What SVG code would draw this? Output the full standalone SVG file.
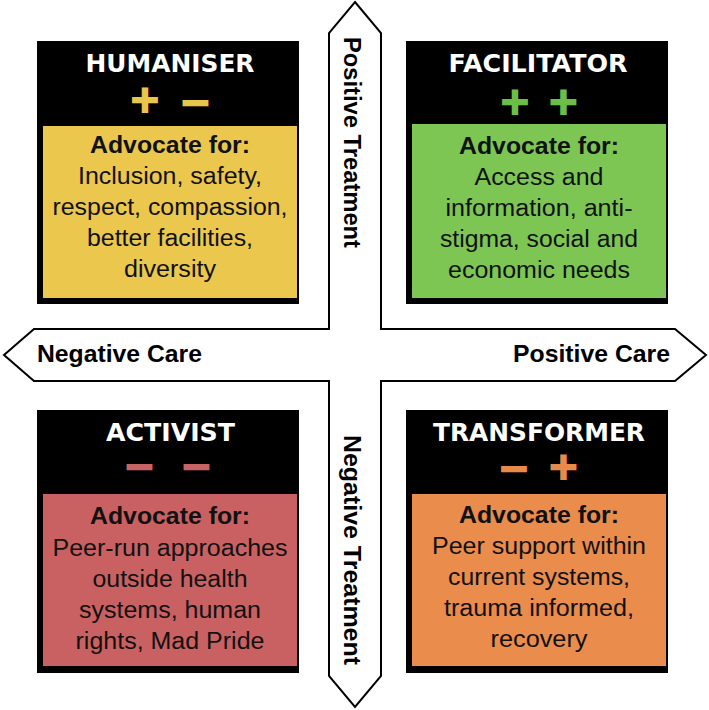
<svg xmlns="http://www.w3.org/2000/svg" width="709" height="710" viewBox="0 0 709 710">
<style>
.axis{fill:#fff;stroke:#000;stroke-width:2;stroke-linejoin:miter}
.axlbl{font-family:"Liberation Sans",Arial,sans-serif;font-weight:bold;font-size:24px;fill:#000}
.hdr{fill:#000}
.title{font-family:"DejaVu Sans",sans-serif;font-weight:bold;font-size:24px;fill:#fff;text-anchor:middle}
.sign{font-family:"DejaVu Sans",sans-serif;font-weight:bold;font-size:38px;text-anchor:middle;stroke-width:2;stroke-linejoin:miter}
.adv{font-family:"Liberation Sans",Arial,sans-serif;font-weight:bold;font-size:24.5px;fill:#111;text-anchor:middle}
.body{font-family:"Liberation Sans",Arial,sans-serif;font-size:23.5px;fill:#111;text-anchor:middle}
</style>
<g id="axes">
<path class="axis" d="M355,2 L381,33 L381,329 L675,329 L706,355 L675,381 L381,381 L381,676 L355,707 L329,676 L329,381 L34,381 L4,355 L34,329 L329,329 L329,33 Z"/>
<text class="axlbl" x="37" y="362" textLength="165" lengthAdjust="spacingAndGlyphs">Negative Care</text>
<text class="axlbl" x="513" y="362" textLength="157" lengthAdjust="spacingAndGlyphs">Positive Care</text>
<text class="axlbl" transform="translate(344,37) rotate(90)" x="0" y="0" textLength="211" lengthAdjust="spacingAndGlyphs">Positive Treatment</text>
<text class="axlbl" transform="translate(344,435) rotate(90)" x="0" y="0" textLength="230" lengthAdjust="spacingAndGlyphs">Negative Treatment</text>
</g>
<g id="humaniser">
<rect class="hdr" x="37" y="41" width="262" height="263"/>
<rect x="43" y="126" width="254" height="172" fill="#EBC84D"/>
<text class="title" x="170" y="72" textLength="169" lengthAdjust="spacingAndGlyphs">HUMANISER</text>
<text class="sign" y="112" fill="#E8C54B" stroke="#E8C54B"><tspan x="145">+</tspan><tspan x="195.5" dy="3">−</tspan></text>
<text class="adv" x="170" y="153" textLength="160" lengthAdjust="spacingAndGlyphs">Advocate for:</text>
<text class="body" x="170" y="184" textLength="184" lengthAdjust="spacingAndGlyphs">Inclusion, safety,</text>
<text class="body" x="170" y="215" textLength="235" lengthAdjust="spacingAndGlyphs">respect, compassion,</text>
<text class="body" x="170" y="246" textLength="166" lengthAdjust="spacingAndGlyphs">better facilities,</text>
<text class="body" x="170" y="277" textLength="92" lengthAdjust="spacingAndGlyphs">diversity</text>
</g>
<g id="facilitator">
<rect class="hdr" x="406" y="41" width="262" height="263"/>
<rect x="412" y="124" width="254" height="174" fill="#7DC653"/>
<text class="title" x="538" y="72" textLength="179" lengthAdjust="spacingAndGlyphs">FACILITATOR</text>
<text class="sign" y="114" fill="#6CBF46" stroke="#6CBF46"><tspan x="515">+</tspan><tspan x="563.5">+</tspan></text>
<text class="adv" x="539" y="154" textLength="160" lengthAdjust="spacingAndGlyphs">Advocate for:</text>
<text class="body" x="539" y="185" textLength="129" lengthAdjust="spacingAndGlyphs">Access and</text>
<text class="body" x="539" y="216" textLength="187" lengthAdjust="spacingAndGlyphs">information, anti-</text>
<text class="body" x="539" y="247" textLength="198" lengthAdjust="spacingAndGlyphs">stigma, social and</text>
<text class="body" x="539" y="278" textLength="182" lengthAdjust="spacingAndGlyphs">economic needs</text>
</g>
<g id="activist">
<rect class="hdr" x="37" y="410" width="262" height="263"/>
<rect x="43" y="494" width="254" height="172" fill="#C96163"/>
<text class="title" x="170.5" y="441" textLength="129" lengthAdjust="spacingAndGlyphs">ACTIVIST</text>
<text class="sign" y="479" fill="#C86465" stroke="#C86465"><tspan x="139.5">−</tspan><tspan x="196.5">−</tspan></text>
<text class="adv" x="170" y="524" textLength="160" lengthAdjust="spacingAndGlyphs">Advocate for:</text>
<text class="body" x="170" y="556" textLength="235" lengthAdjust="spacingAndGlyphs">Peer-run approaches</text>
<text class="body" x="170" y="587" textLength="155" lengthAdjust="spacingAndGlyphs">outside health</text>
<text class="body" x="170" y="618" textLength="182" lengthAdjust="spacingAndGlyphs">systems, human</text>
<text class="body" x="170" y="649" textLength="189" lengthAdjust="spacingAndGlyphs">rights, Mad Pride</text>
</g>
<g id="transformer">
<rect class="hdr" x="406" y="410" width="262" height="263"/>
<rect x="412" y="494" width="254" height="172" fill="#EA8C4B"/>
<text class="title" x="539" y="441" textLength="212" lengthAdjust="spacingAndGlyphs">TRANSFORMER</text>
<text class="sign" y="479" fill="#E88A4A" stroke="#E88A4A"><tspan x="514" dy="2">−</tspan><tspan x="563.5" dy="-2">+</tspan></text>
<text class="adv" x="539" y="523" textLength="160" lengthAdjust="spacingAndGlyphs">Advocate for:</text>
<text class="body" x="539" y="554" textLength="214" lengthAdjust="spacingAndGlyphs">Peer support within</text>
<text class="body" x="539" y="585" textLength="182" lengthAdjust="spacingAndGlyphs">current systems,</text>
<text class="body" x="539" y="616" textLength="190" lengthAdjust="spacingAndGlyphs">trauma informed,</text>
<text class="body" x="539" y="647" textLength="97" lengthAdjust="spacingAndGlyphs">recovery</text>
</g>
</svg>
